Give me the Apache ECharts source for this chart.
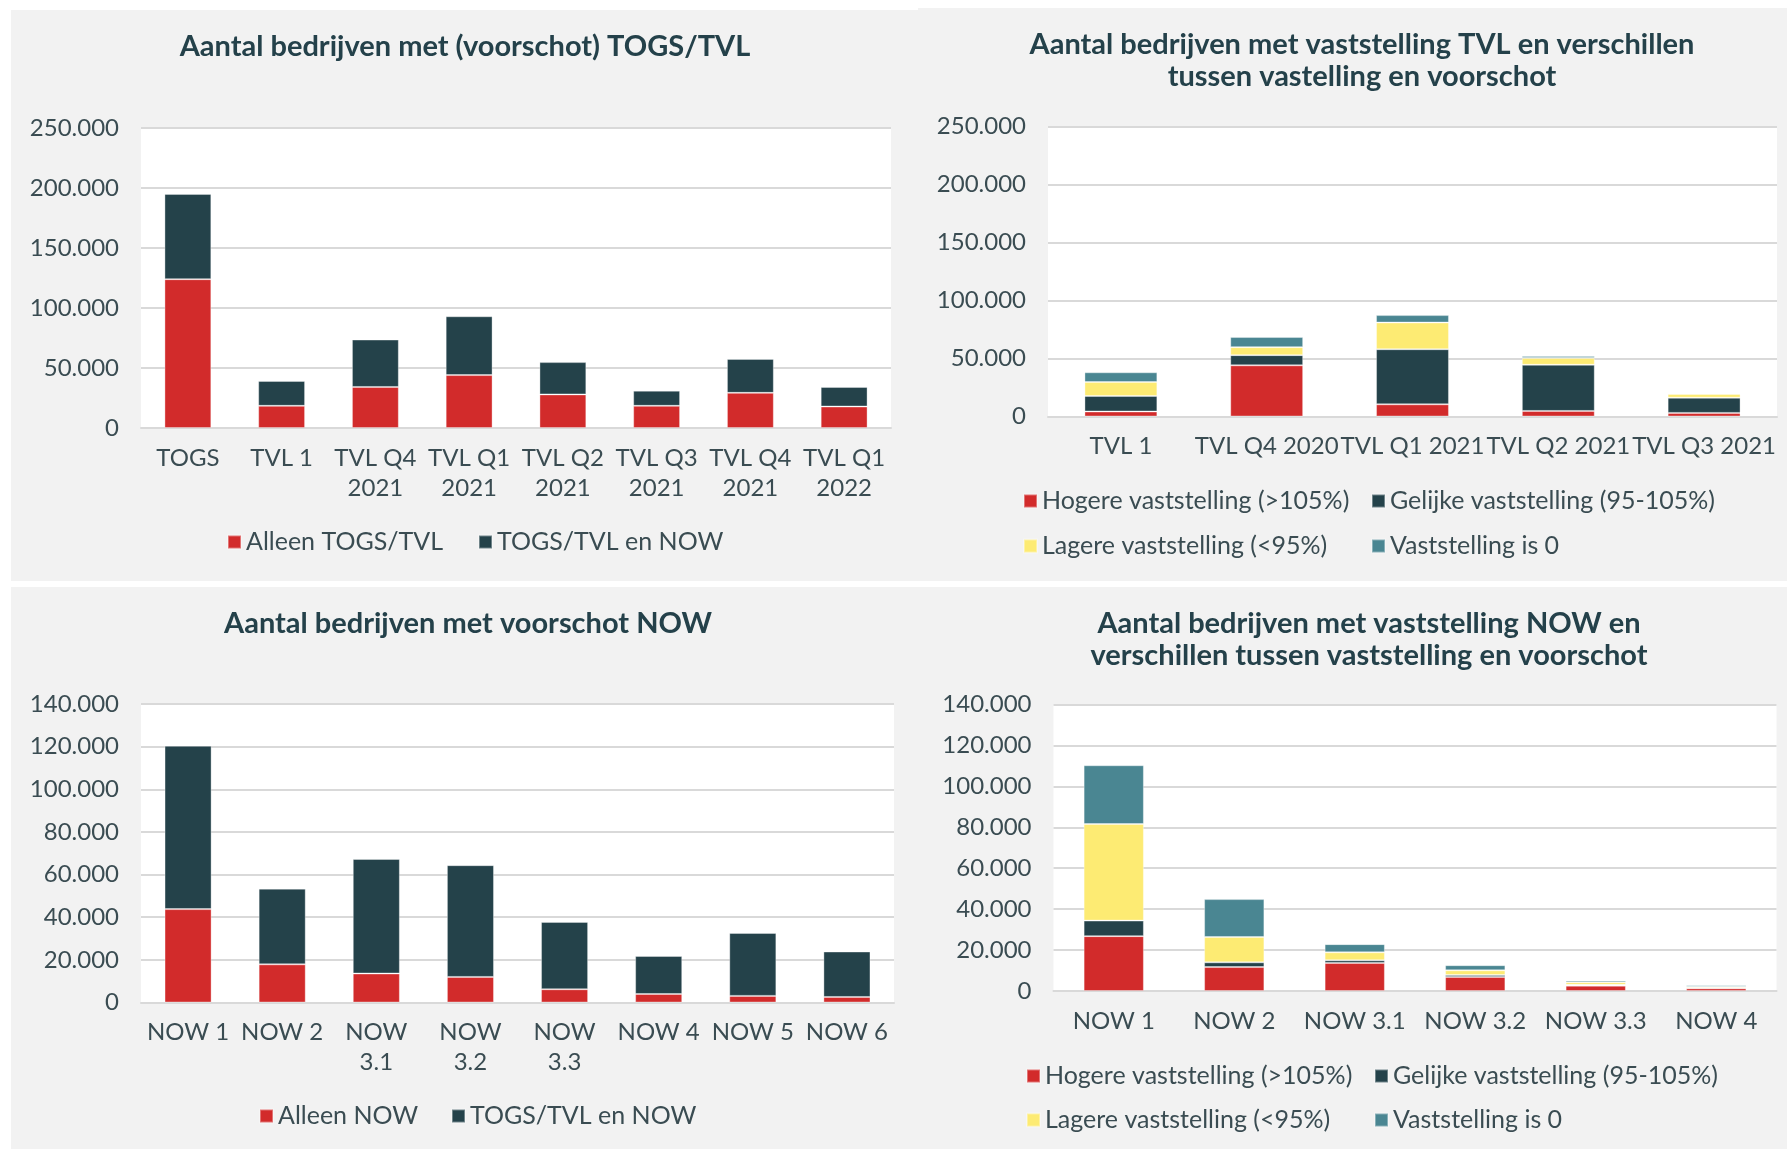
<!DOCTYPE html>
<html>
<head>
<meta charset="utf-8">
<script src="https://cdn.jsdelivr.net/npm/echarts@6/dist/echarts.min.js"></script>
<style>
  html, body { margin: 0; padding: 0; background: #ffffff; }
  body { width: 1787px; height: 1149px; position: relative; overflow: hidden; }
  .panel { position: absolute; background: #f2f2f2; }
</style>
</head>
<body>
<div id="togs" class="panel" style="left: 11px; top: 10px; width: 907px; height: 571px;"></div>
<div id="tvlVast" class="panel" style="left: 918px; top: 8px; width: 869px; height: 573px;"></div>
<div id="now" class="panel" style="left: 11px; top: 587px; width: 907px; height: 562px;"></div>
<div id="nowVast" class="panel" style="left: 918px; top: 587px; width: 869px; height: 562px;"></div>

<script>
// kleuren
var RED = '#d22b2b'
var DARK = '#24424a'
var YELLOW = '#fdeb73'
var TEAL = '#4a8692'
var TXT = '#3a4c52'
var FONT = 'Lato'

// linksboven: voorschot TOGS/TVL
var togsCats = ['TOGS', 'TVL 1', 'TVL Q4\n2021', 'TVL Q1\n2021', 'TVL Q2\n2021', 'TVL Q3\n2021', 'TVL Q4\n2021', 'TVL Q1\n2022']
var togsAlleen = [124000, 18500, 34200, 44100, 28000, 18500, 29300, 17900]
var togsMetNow = [71100, 20700, 39500, 49000, 26900, 12600, 28300, 16300]

// rechtsboven: vaststelling TVL
var tvlCats = ['TVL 1', 'TVL Q4 2020', 'TVL Q1 2021', 'TVL Q2 2021', 'TVL Q3 2021']
var tvlHoger = [4300, 44100, 10500, 4800, 3100]
var tvlGelijk = [13400, 8800, 47500, 39800, 13100]
var tvlLager = [12000, 6900, 23000, 5800, 3200]
var tvlNul = [8400, 8700, 6400, 1700, 900]

// linksonder: voorschot NOW
var nowCats = ['NOW 1', 'NOW 2', 'NOW\n3.1', 'NOW\n3.2', 'NOW\n3.3', 'NOW 4', 'NOW 5', 'NOW 6']
var nowAlleen = [43800, 17900, 13600, 12000, 6200, 4000, 3100, 2600]
var nowMetTogs = [76600, 35500, 53700, 52400, 31600, 17800, 29500, 21300]

// rechtsonder: vaststelling NOW
var nowVastCats = ['NOW 1', 'NOW 2', 'NOW 3.1', 'NOW 3.2', 'NOW 3.3', 'NOW 4']
var nowHoger = [26800, 11700, 13700, 6900, 2600, 1300]
var nowGelijk = [7600, 2300, 1300, 900, 400, 200]
var nowLager = [47200, 12400, 3900, 2300, 1300, 600]
var nowNul = [28700, 18500, 4000, 2500, 800, 700]

var vastNames = ['Hogere vaststelling (>105%)', 'Gelijke vaststelling (95-105%)', 'Lagere vaststelling (<95%)', 'Vaststelling is 0']

function dots (v) {
  return String(v).replace(/\B(?=(\d{3})+(?!\d))/g, '.')
}

function legendItem (name, left, top) {
  return {
    data: [name],
    left: left,
    top: top,
    padding: 0,
    itemWidth: 13,
    itemHeight: 13,
    icon: 'rect',
    selectedMode: false,
    textStyle: { fontFamily: FONT, fontSize: 25, color: TXT, lineHeight: 26 }
  }
}

function barSeries (name, color, data) {
  return {
    name: name,
    type: 'bar',
    stack: 'totaal',
    barWidth: '50%',
    itemStyle: { color: color, borderColor: 'rgba(255,255,255,0.35)', borderWidth: 1 },
    data: data
  }
}

function makeOption (cfg) {
  return {
    animation: false,
    textStyle: { fontFamily: FONT },
    title: {
      text: cfg.title,
      left: cfg.titleX,
      textAlign: 'center',
      top: 21,
      padding: 0,
      textStyle: { fontFamily: FONT, fontSize: 29, fontWeight: 'bold', color: '#24414a', lineHeight: 32 }
    },
    legend: cfg.legends,
    grid: Object.assign({ show: true, backgroundColor: '#ffffff', borderWidth: 0 }, cfg.grid),
    xAxis: {
      type: 'category',
      data: cfg.cats,
      axisLine: { lineStyle: { color: '#d9d9d9', width: 2 } },
      axisTick: { show: false },
      axisLabel: { interval: 0, margin: 15, fontFamily: FONT, fontSize: 24, lineHeight: 30, color: TXT }
    },
    yAxis: {
      type: 'value',
      min: 0,
      max: cfg.max,
      interval: cfg.step,
      axisLine: { show: false },
      axisTick: { show: false },
      splitLine: { lineStyle: { color: '#d9d9d9', width: 2 } },
      axisLabel: { margin: 22, fontFamily: FONT, fontSize: 24, color: TXT, formatter: dots }
    },
    series: cfg.series
  }
}

var chart1 = echarts.init(document.getElementById('togs'))
chart1.setOption(makeOption({
  title: 'Aantal bedrijven met (voorschot) TOGS/TVL',
  titleX: 454,
  cats: togsCats,
  max: 250000,
  step: 50000,
  grid: { left: 130, top: 118, right: 27, bottom: 153 },
  legends: [legendItem('Alleen TOGS/TVL', 216, 519), legendItem('TOGS/TVL en NOW', 467, 519)],
  series: [barSeries('Alleen TOGS/TVL', RED, togsAlleen), barSeries('TOGS/TVL en NOW', DARK, togsMetNow)]
}))

var chart2 = echarts.init(document.getElementById('tvlVast'))
chart2.setOption(makeOption({
  title: 'Aantal bedrijven met vaststelling TVL en verschillen\ntussen vastelling en voorschot',
  titleX: 444,
  cats: tvlCats,
  max: 250000,
  step: 50000,
  grid: { left: 130, top: 118.5, right: 10, bottom: 164.5 },
  legends: [
    legendItem(vastNames[0], 105, 480), legendItem(vastNames[1], 453, 480),
    legendItem(vastNames[2], 105, 525), legendItem(vastNames[3], 453, 525)
  ],
  series: [
    barSeries(vastNames[0], RED, tvlHoger),
    barSeries(vastNames[1], DARK, tvlGelijk),
    barSeries(vastNames[2], YELLOW, tvlLager),
    barSeries(vastNames[3], TEAL, tvlNul)
  ]
}))

var chart3 = echarts.init(document.getElementById('now'))
chart3.setOption(makeOption({
  title: 'Aantal bedrijven met voorschot NOW',
  titleX: 457,
  cats: nowCats,
  max: 140000,
  step: 20000,
  grid: { left: 130, top: 117, right: 24, bottom: 146.5 },
  legends: [legendItem('Alleen NOW', 248, 516), legendItem('TOGS/TVL en NOW', 440, 516)],
  series: [barSeries('Alleen NOW', RED, nowAlleen), barSeries('TOGS/TVL en NOW', DARK, nowMetTogs)]
}))

var chart4 = echarts.init(document.getElementById('nowVast'))
chart4.setOption(makeOption({
  title: 'Aantal bedrijven met vaststelling NOW en\nverschillen tussen vaststelling en voorschot',
  titleX: 451,
  cats: nowVastCats,
  max: 140000,
  step: 20000,
  grid: { left: 135.5, top: 117.5, right: 10.5, bottom: 158 },
  legends: [
    legendItem(vastNames[0], 108, 476), legendItem(vastNames[1], 456, 476),
    legendItem(vastNames[2], 108, 520), legendItem(vastNames[3], 456, 520)
  ],
  series: [
    barSeries(vastNames[0], RED, nowHoger),
    barSeries(vastNames[1], DARK, nowGelijk),
    barSeries(vastNames[2], YELLOW, nowLager),
    barSeries(vastNames[3], TEAL, nowNul)
  ]
}))
</script>
</body>
</html>
